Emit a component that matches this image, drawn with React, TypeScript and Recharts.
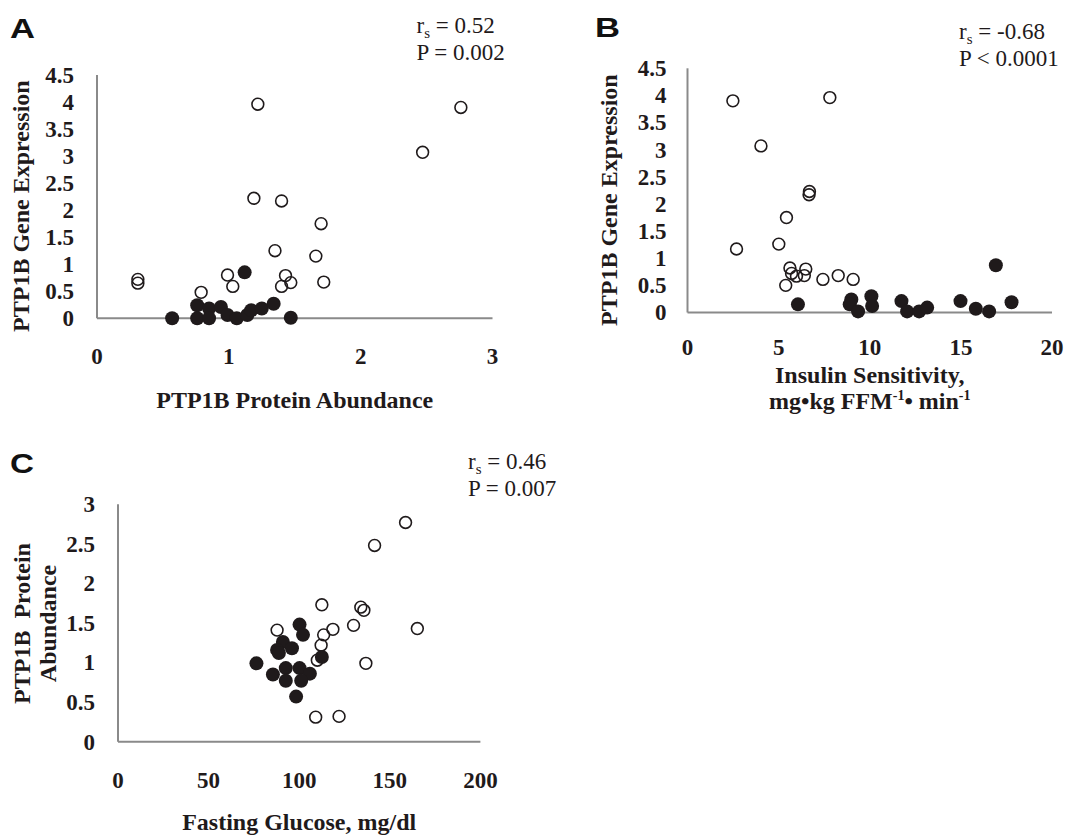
import React from 'react';
import { ScatterChart, Scatter, XAxis, YAxis, Label } from 'recharts';

const SERIF = '"Liberation Serif", "Times New Roman", serif';
const SANS = '"Liberation Sans", Arial, sans-serif';
const INK = '#1f1a1b';
const AXIS = '#8a8a8a';

// Panel A: protein abundance (x) vs gene expression (y)
const aOpen = [
  [0.31, 0.72], [0.31, 0.65], [1.22, 3.96], [2.76, 3.9], [2.47, 3.07], [1.19, 2.22],
  [1.4, 2.17], [1.7, 1.75], [1.35, 1.25], [1.66, 1.15], [0.99, 0.8], [1.03, 0.59],
  [0.79, 0.48], [1.43, 0.79], [1.4, 0.59], [1.47, 0.66], [1.72, 0.67],
];
const aFilled = [
  [1.12, 0.85], [0.57, 0.0], [0.76, 0.24], [0.76, 0.0], [0.85, 0.18], [0.85, 0.0],
  [0.94, 0.21], [0.99, 0.06], [1.06, 0.0], [1.14, 0.06], [1.17, 0.15], [1.25, 0.18],
  [1.34, 0.27], [1.47, 0.01],
];
const aXTicks = [0, 1, 2, 3];
const aYTicks = [0, 0.5, 1, 1.5, 2, 2.5, 3, 3.5, 4, 4.5];

// Panel B: insulin sensitivity (x) vs gene expression (y)
const bOpen = [
  [2.49, 3.9], [7.81, 3.96], [4.03, 3.07], [6.69, 2.23], [6.67, 2.17], [5.43, 1.75],
  [2.69, 1.17], [5.01, 1.26], [5.62, 0.82], [5.71, 0.72], [5.98, 0.67], [6.49, 0.8],
  [6.41, 0.68], [5.39, 0.5], [7.43, 0.61], [8.27, 0.68], [9.09, 0.61],
];
const bFilled = [
  [6.06, 0.15], [8.99, 0.24], [8.9, 0.15], [9.36, 0.02], [10.09, 0.3], [10.13, 0.12],
  [11.74, 0.21], [12.05, 0.02], [12.71, 0.02], [13.15, 0.09], [14.98, 0.21], [15.82, 0.07],
  [16.55, 0.02], [17.78, 0.19], [16.92, 0.87],
];
const bXTicks = [0, 5, 10, 15, 20];
const bYTicks = aYTicks;

// Panel C: fasting glucose (x) vs protein abundance (y)
const cOpen = [
  [158.7, 2.77], [141.6, 2.48], [112.5, 1.73], [134.0, 1.7], [135.7, 1.66], [130, 1.47],
  [118.6, 1.42], [165.2, 1.43], [87.8, 1.41], [113.5, 1.35], [112.1, 1.22], [110.0, 1.03],
  [136.8, 0.99], [109.1, 0.31], [122, 0.32],
];
const cFilled = [
  [76.4, 0.99], [100.2, 1.48], [102.1, 1.35], [91.0, 1.26], [96.0, 1.18], [87.8, 1.16],
  [88.8, 1.12], [112.5, 1.07], [92.6, 0.93], [100.2, 0.93], [85.5, 0.85], [105.9, 0.86],
  [92.6, 0.77], [101.1, 0.77], [98.3, 0.57],
];
const cXTicks = [0, 50, 100, 150, 200];
const cYTicks = [0, 0.5, 1, 1.5, 2, 2.5, 3];

type Pt = { x: number; y: number };
const toPts = (rows: number[][]): Pt[] => rows.map(([x, y]) => ({ x, y }));

const OpenDot = (p: any) => (
  <circle cx={p.cx} cy={p.cy} r={5.9} fill="none" stroke={INK} strokeWidth={1.6} />
);
const FilledDot = (p: any) => <circle cx={p.cx} cy={p.cy} r={7} fill={INK} />;

const serifBold = { fontFamily: SERIF, fontWeight: 700 } as const;

const XTick = (p: any) => (
  <text x={p.x} y={p.y} dy="0.71em" textAnchor="middle" fill={INK} style={{ ...serifBold, fontSize: 23 }}>
    {p.payload.value}
  </text>
);
const YTick = (p: any) => (
  <text x={p.x} y={p.y} dy="0.34em" textAnchor="end" fill={INK} style={{ ...serifBold, fontSize: 23 }}>
    {p.payload.value}
  </text>
);

const titleStyle = { ...serifBold, fontSize: 24 };

// x-axis title lines: [text, baseline offset below the axis]
function xTitle(lines: [React.ReactNode, number][]) {
  return (props: any) => {
    const vb = props.viewBox;
    const cx = vb.x + vb.width / 2;
    return (
      <g>
        {lines.map(([t, dy], i) => (
          <text key={i} x={cx} y={vb.y + dy} textAnchor="middle" fill={INK} style={titleStyle}>
            {t}
          </text>
        ))}
      </g>
    );
  };
}

// y-axis title lines: [text, baseline offset left of the axis], dy shifts the centre
function yTitle(lines: [string, number][], dy: number) {
  return (props: any) => {
    const vb = props.viewBox;
    const axisX = vb.x + vb.width;
    const cy = vb.y + vb.height / 2 + dy;
    return (
      <g>
        {lines.map(([t, dx], i) => (
          <text
            key={i}
            x={axisX - dx}
            y={cy}
            textAnchor="middle"
            transform={`rotate(-90 ${axisX - dx} ${cy})`}
            fill={INK}
            style={titleStyle}
          >
            {t}
          </text>
        ))}
      </g>
    );
  };
}

type PanelProps = {
  left: number;
  top: number;
  width: number;
  height: number;
  margin: { top: number; right: number; bottom: number; left: number };
  open: number[][];
  filled: number[][];
  xTicks: number[];
  yTicks: number[];
  xTickGap: number;
  yTickGap: number;
  xLabel: (p: any) => React.ReactNode;
  yLabel: (p: any) => React.ReactNode;
};

function Panel(p: PanelProps) {
  const xMax = p.xTicks[p.xTicks.length - 1];
  const yMax = p.yTicks[p.yTicks.length - 1];
  return (
    <div style={{ position: 'absolute', left: p.left, top: p.top }}>
      <ScatterChart width={p.width} height={p.height} margin={p.margin}>
        <XAxis
          type="number"
          dataKey="x"
          domain={[0, xMax]}
          ticks={p.xTicks}
          interval={0}
          height={60}
          tickLine={false}
          tickSize={6}
          tickMargin={p.xTickGap - 6}
          axisLine={{ stroke: AXIS, strokeWidth: 2 }}
          tick={XTick}
        >
          <Label content={p.xLabel} />
        </XAxis>
        <YAxis
          type="number"
          dataKey="y"
          domain={[0, yMax]}
          ticks={p.yTicks}
          interval={0}
          width={60}
          tickLine={false}
          tickSize={6}
          tickMargin={p.yTickGap - 6}
          axisLine={{ stroke: AXIS, strokeWidth: 2 }}
          tick={YTick}
        >
          <Label content={p.yLabel} />
        </YAxis>
        <Scatter data={toPts(p.open)} shape={OpenDot} isAnimationActive={false} />
        <Scatter data={toPts(p.filled)} shape={FilledDot} isAnimationActive={false} />
      </ScatterChart>
    </div>
  );
}

function Stat({ x, y, r, pLine }: { x: number; y: number; r: string; pLine: string }) {
  const st = { fontFamily: SERIF, fontWeight: 400, fontSize: 23 };
  return (
    <g fill={INK}>
      <text x={x} y={y} style={st}>
        r<tspan style={{ fontSize: 15 }} dy={5}>s</tspan>
        <tspan dy={-5}>{` = ${r}`}</tspan>
      </text>
      <text x={x} y={y + 26.5} style={st}>{pLine}</text>
    </g>
  );
}

function PanelLetter({ x, y, w, children }: { x: number; y: number; w: number; children: string }) {
  return (
    <text
      x={x}
      y={y}
      textLength={w}
      lengthAdjust="spacingAndGlyphs"
      fill="#111"
      style={{ fontFamily: SANS, fontWeight: 700, fontSize: 28.5 }}
    >
      {children}
    </text>
  );
}

export default function App() {
  return (
    <div style={{ position: 'absolute', left: 0, top: 0, width: 1070, height: 838, background: '#fff' }}>
      <Panel
        left={0}
        top={0}
        width={540}
        height={420}
        margin={{ top: 75, right: 47.5, bottom: 41.7, left: 37 }}
        open={aOpen}
        filled={aFilled}
        xTicks={aXTicks}
        yTicks={aYTicks}
        xTickGap={29}
        yTickGap={23}
        xLabel={xTitle([['PTP1B Protein Abundance', 90]])}
        yLabel={yTitle([['PTP1B Gene Expression', 68]], 9.5)}
      />
      <Panel
        left={540}
        top={0}
        width={530}
        height={420}
        margin={{ top: 68.3, right: 18, bottom: 47.5, left: 87.5 }}
        open={bOpen}
        filled={bFilled}
        xTicks={bXTicks}
        yTicks={bYTicks}
        xTickGap={26.5}
        yTickGap={21}
        xLabel={xTitle([
          ['Insulin Sensitivity,', 70],
          [
            <>
              mg•kg FFM
              <tspan style={{ fontSize: 14 }} dy={-9}>-1</tspan>
              <tspan dy={9}>• min</tspan>
              <tspan style={{ fontSize: 14 }} dy={-9}>-1</tspan>
            </>,
            96,
          ],
        ])}
        yLabel={yTitle([['PTP1B Gene Expression', 70]], 9.7)}
      />
      <Panel
        left={0}
        top={420}
        width={540}
        height={418}
        margin={{ top: 84.3, right: 59.6, bottom: 36.3, left: 58 }}
        open={cOpen}
        filled={cFilled}
        xTicks={cXTicks}
        yTicks={cYTicks}
        xTickGap={30}
        yTickGap={23}
        xLabel={xTitle([['Fasting Glucose, mg/dl', 88.5]])}
        yLabel={yTitle([['PTP1B\u00a0\u00a0Protein', 88.5], ['Abundance', 62]], 0.5)}
      />
      <svg
        width={1070}
        height={838}
        style={{ position: 'absolute', left: 0, top: 0, pointerEvents: 'none' }}
      >
        <PanelLetter x={10} y={38.3} w={25}>A</PanelLetter>
        <PanelLetter x={595} y={37.3} w={25}>B</PanelLetter>
        <PanelLetter x={10} y={473.3} w={24}>C</PanelLetter>
        <Stat x={416.5} y={33.3} r="0.52" pLine="P = 0.002" />
        <Stat x={959} y={39.3} r="-0.68" pLine="P < 0.0001" />
        <Stat x={468} y={469.3} r="0.46" pLine="P = 0.007" />
      </svg>
    </div>
  );
}
